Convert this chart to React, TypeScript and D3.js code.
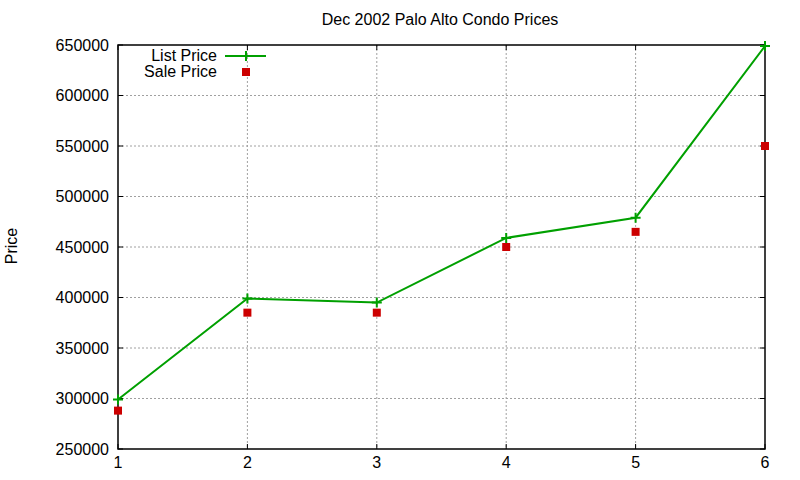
import React, { useRef, useEffect } from 'react';
import * as d3 from 'd3';

// Chart data
const listings = [1, 2, 3, 4, 5, 6];
const listPrice = [299000, 399000, 395000, 459000, 479000, 649000];
const salePrice = [288000, 385000, 385000, 450000, 465000, 550000];
const yTicks = [250000, 300000, 350000, 400000, 450000, 500000, 550000, 600000, 650000];

const App: React.FC = () => {
  const svgRef = useRef<SVGSVGElement>(null);
  const width = 800;
  const height = 480;

  useEffect(() => {
    if (!svgRef.current) return;
    const svg = d3.select(svgRef.current);
    svg.selectAll('*').remove();

    const margin = { top: 45, right: 35, bottom: 31, left: 118 };
    const w = width - margin.left - margin.right;
    const h = height - margin.top - margin.bottom;
    const font = 'Liberation Sans, Arial, sans-serif';
    const green = '#00a000';
    const red = '#cc0000';

    svg.append('rect').attr('width', width).attr('height', height).attr('fill', '#fff');

    const g = svg.append('g').attr('transform', `translate(${margin.left},${margin.top})`);

    const x = d3.scaleLinear().domain([1, 6]).range([0, w]);
    const y = d3.scaleLinear().domain([250000, 650000]).range([h, 0]);

    // Grid
    g.selectAll('.hgrid')
      .data(yTicks.slice(1, -1))
      .enter()
      .append('line')
      .attr('x1', 0)
      .attr('x2', w)
      .attr('y1', d => y(d))
      .attr('y2', d => y(d))
      .attr('stroke', '#a0a0a0')
      .attr('stroke-dasharray', '2,2');

    g.selectAll('.vgrid')
      .data(listings.slice(1, -1))
      .enter()
      .append('line')
      .attr('x1', d => x(d))
      .attr('x2', d => x(d))
      .attr('y1', 0)
      .attr('y2', h)
      .attr('stroke', '#a0a0a0')
      .attr('stroke-dasharray', '2,2');

    // Tick marks (inward, mirrored)
    const tl = 5;
    yTicks.forEach(t => {
      g.append('line').attr('x1', 0).attr('x2', tl).attr('y1', y(t)).attr('y2', y(t)).attr('stroke', '#000');
      g.append('line').attr('x1', w - tl).attr('x2', w).attr('y1', y(t)).attr('y2', y(t)).attr('stroke', '#000');
      g.append('text')
        .attr('x', -9)
        .attr('y', y(t))
        .attr('dy', '0.35em')
        .attr('text-anchor', 'end')
        .attr('font-family', font)
        .attr('font-size', '16px')
        .attr('fill', '#000')
        .text(String(t));
    });
    listings.forEach(t => {
      g.append('line').attr('x1', x(t)).attr('x2', x(t)).attr('y1', h).attr('y2', h - tl).attr('stroke', '#000');
      g.append('line').attr('x1', x(t)).attr('x2', x(t)).attr('y1', 0).attr('y2', tl).attr('stroke', '#000');
      g.append('text')
        .attr('x', x(t))
        .attr('y', h + 19)
        .attr('text-anchor', 'middle')
        .attr('font-family', font)
        .attr('font-size', '16px')
        .attr('fill', '#000')
        .text(String(t));
    });

    // Border
    g.append('rect')
      .attr('width', w)
      .attr('height', h)
      .attr('fill', 'none')
      .attr('stroke', '#000')
      .attr('stroke-width', 1.5);

    // List price line
    const line = d3.line<number>()
      .x((d, i) => x(listings[i]))
      .y(d => y(d));

    g.append('path')
      .datum(listPrice)
      .attr('d', line)
      .attr('fill', 'none')
      .attr('stroke', green)
      .attr('stroke-width', 2);

    const plus = (sel: d3.Selection<SVGGElement, unknown, null, undefined>, cx: number, cy: number) => {
      sel.append('path')
        .attr('d', `M${cx - 5},${cy}H${cx + 5}M${cx},${cy - 5}V${cy + 5}`)
        .attr('stroke', green)
        .attr('stroke-width', 2)
        .attr('fill', 'none');
    };

    listPrice.forEach((v, i) => plus(g, x(listings[i]), y(v)));

    // Sale price points
    g.selectAll('.sale')
      .data(salePrice)
      .enter()
      .append('rect')
      .attr('x', (d, i) => x(listings[i]) - 4)
      .attr('y', d => y(d) - 4)
      .attr('width', 8)
      .attr('height', 8)
      .attr('fill', red);

    // Legend
    const legend = svg.append('g');
    legend.append('text')
      .attr('x', 217)
      .attr('y', 61)
      .attr('text-anchor', 'end')
      .attr('font-family', font)
      .attr('font-size', '16px')
      .attr('fill', '#000')
      .text('List Price');
    legend.append('line')
      .attr('x1', 225)
      .attr('x2', 266)
      .attr('y1', 56)
      .attr('y2', 56)
      .attr('stroke', green)
      .attr('stroke-width', 2);
    plus(legend, 246, 56);

    legend.append('text')
      .attr('x', 217)
      .attr('y', 77)
      .attr('text-anchor', 'end')
      .attr('font-family', font)
      .attr('font-size', '16px')
      .attr('fill', '#000')
      .text('Sale Price');
    legend.append('rect')
      .attr('x', 242)
      .attr('y', 68)
      .attr('width', 8)
      .attr('height', 8)
      .attr('fill', red);

    // Title
    svg.append('text')
      .attr('x', 440)
      .attr('y', 25)
      .attr('text-anchor', 'middle')
      .attr('font-family', font)
      .attr('font-size', '16px')
      .attr('fill', '#000')
      .text('Dec 2002 Palo Alto Condo Prices');

    // Y axis label
    svg.append('text')
      .attr('transform', 'translate(17,246) rotate(-90)')
      .attr('text-anchor', 'middle')
      .attr('font-family', font)
      .attr('font-size', '16px')
      .attr('fill', '#000')
      .text('Price');
  }, []);

  return (
    <svg
      ref={svgRef}
      width={width}
      height={height}
      style={{ position: 'absolute', top: 0, left: 0 }}
    />
  );
};

export default App;
